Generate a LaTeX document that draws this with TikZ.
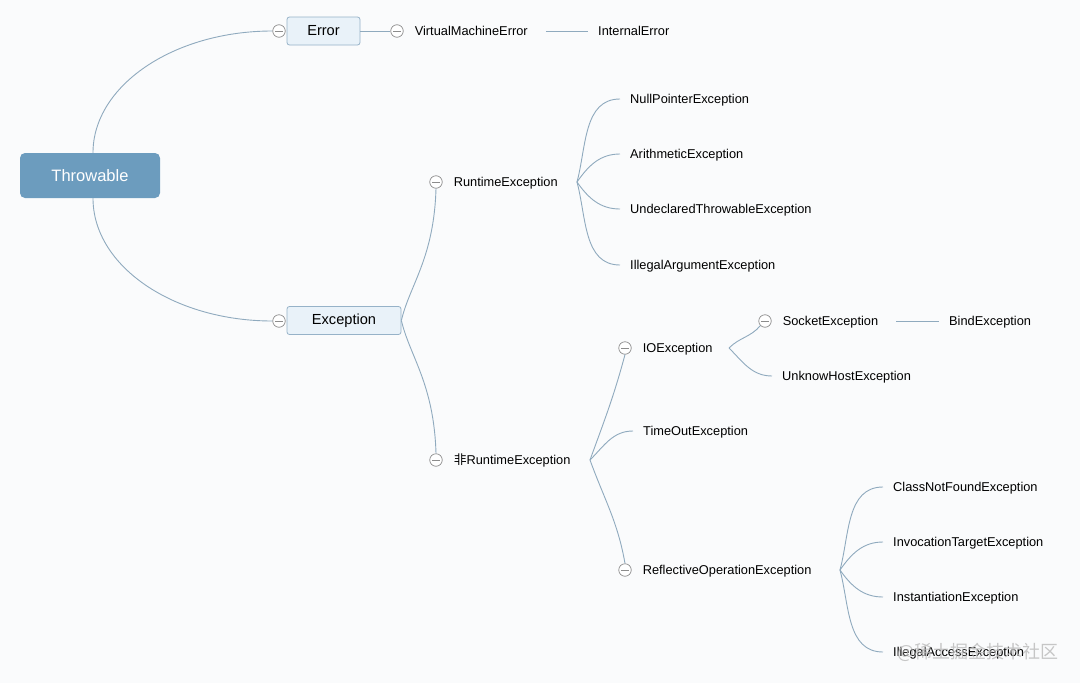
\documentclass[tikz,border=0pt]{standalone}
\usepackage{fontspec}
\setmainfont{Liberation Sans}
\newfontfamily\cjk{Noto Sans CJK SC}
\usetikzlibrary{positioning}
\definecolor{bgpaper}{RGB}{250,251,252}
\definecolor{rootfill}{RGB}{108,156,190}
\definecolor{topfill}{RGB}{233,242,249}
\definecolor{topborder}{RGB}{150,178,200}
\definecolor{linkblue}{RGB}{143,170,190}
\definecolor{foldgray}{RGB}{140,140,140}
\definecolor{markgray}{RGB}{185,185,185}
\tikzset{
  rootblk/.style={rectangle, rounded corners=5pt, fill=rootfill, text=white,
    font=\fontsize{16.5}{19}\selectfont, minimum width=140pt, minimum height=45pt},
  topblk/.style={rectangle, rounded corners=2.5pt, draw=topborder, fill=topfill,
    line width=0.8pt, font=\fontsize{14.6}{17}\selectfont, minimum height=28pt},
  leaf/.style={anchor=west, inner xsep=10pt, inner ysep=0pt,
    font=\fontsize{12.8}{15}\selectfont, text height=11pt, text depth=2pt},
  fold/.style={circle, draw=foldgray, fill=white, line width=0.7pt,
    minimum size=12.5pt, inner sep=0pt,
    path picture={\draw[foldgray, line width=0.7pt]
      ([xshift=2.5pt]path picture bounding box.west) --
      ([xshift=-2.5pt]path picture bounding box.east);}},
  lnk/.style={draw=linkblue, line width=0.9pt},
}

\begin{document}
\begin{tikzpicture}[x=1pt, y=1pt]
\path[fill=bgpaper] (0,0) rectangle (1080,-683);

% root and first level
\node[rootblk] (thr) at (90,-175.5) {Throwable};
\node[topblk, minimum width=73pt] (err) at (323.5,-31) {Error};
\node[topblk, minimum width=114pt] (exc) at (344,-320.5) {Exception};
\node[fold] (errfold) at (279,-31) {};
\node[fold] (excfold) at (279,-321) {};

% Error branch
\node[fold] (vmefold) at (397,-31) {};
\node[leaf, right=1pt of vmefold] (vme) {VirtualMachineError};
\node[leaf] (ie) at (588,-31) {InternalError};

% Exception branch
\node[fold] (rtfold) at (436,-182) {};
\node[leaf, right=1pt of rtfold] (rte) {RuntimeException};
\node[fold] (nrtfold) at (436,-460) {};
\node[leaf, right=1pt of nrtfold] (nrte) {{\cjk 非}RuntimeException};

\node[leaf] (npe) at (620,-99) {NullPointerException};
\node[leaf] (ae) at (620,-154) {ArithmeticException};
\node[leaf] (ute) at (620,-209) {UndeclaredThrowableException};
\node[leaf] (iae) at (620,-265) {IllegalArgumentException};

\node[fold] (iofold) at (625,-348) {};
\node[leaf, right=1pt of iofold] (ioe) {IOException};
\node[leaf] (toe) at (633,-431) {TimeOutException};
\node[fold] (reffold) at (625,-570) {};
\node[leaf, right=1pt of reffold] (refe) {ReflectiveOperationException};

\node[fold] (sockfold) at (765,-321) {};
\node[leaf, right=1pt of sockfold] (sock) {SocketException};
\node[leaf] (bind) at (939,-321) {BindException};
\node[leaf] (uhe) at (772,-376) {UnknowHostException};

\node[leaf] (cnfe) at (883,-487) {ClassNotFoundException};
\node[leaf] (ite) at (883,-542) {InvocationTargetException};
\node[leaf] (inse) at (883,-597) {InstantiationException};
\node[leaf] (iace) at (883,-652) {IllegalAccessException};

\coordinate (rtfork) at (577,-182);
\coordinate (nrtfork) at (590,-460);
\coordinate (iofork) at (729,-348);
\coordinate (reffork) at (840,-570);

% connectors
\draw[lnk] ([xshift=3pt]thr.north) .. controls +(0,67) and +(-99,0) .. (errfold.west);
\draw[lnk] ([xshift=3pt]thr.south) .. controls +(0,-68) and +(-99,0) .. (excfold.west);
\draw[lnk] (err.east) -- (vmefold.west);
\draw[lnk] ([xshift=8pt]vme.east) -- (ie.west);

\draw[lnk] (exc.east) .. controls +(8,35) and +(-2,-70) .. (rtfold.south);
\draw[lnk] (exc.east) .. controls +(8,-35) and +(-2,70) .. (nrtfold.north);

\draw[lnk] (rtfork) to[out=75, in=180] (npe.west);
\draw[lnk] (rtfork) to[out=55, in=180] (ae.west);
\draw[lnk] (rtfork) to[out=-55, in=180] (ute.west);
\draw[lnk] (rtfork) to[out=-75, in=180] (iae.west);

\draw[lnk] (nrtfork) to[out=70, in=-105] (iofold.south);
\draw[lnk] (nrtfork) to[out=45, in=180] (toe.west);
\draw[lnk] (nrtfork) to[out=-70, in=100] (reffold.north);

\draw[lnk] (iofork) to[out=45, in=-130] (sockfold.south west);
\draw[lnk] (iofork) to[out=-45, in=180] (uhe.west);
\draw[lnk] ([xshift=8pt]sock.east) -- (bind.west);

\draw[lnk] (reffork) to[out=75, in=180] (cnfe.west);
\draw[lnk] (reffork) to[out=55, in=180] (ite.west);
\draw[lnk] (reffork) to[out=-55, in=180] (inse.west);
\draw[lnk] (reffork) to[out=-75, in=180] (iace.west);

\node[anchor=west, inner sep=0pt, text=markgray, opacity=0.8,
  font=\cjk\fontsize{18}{21}\selectfont] (mark) at (897,-652) {@稀土掘金技术社区};
\end{tikzpicture}
\end{document}
